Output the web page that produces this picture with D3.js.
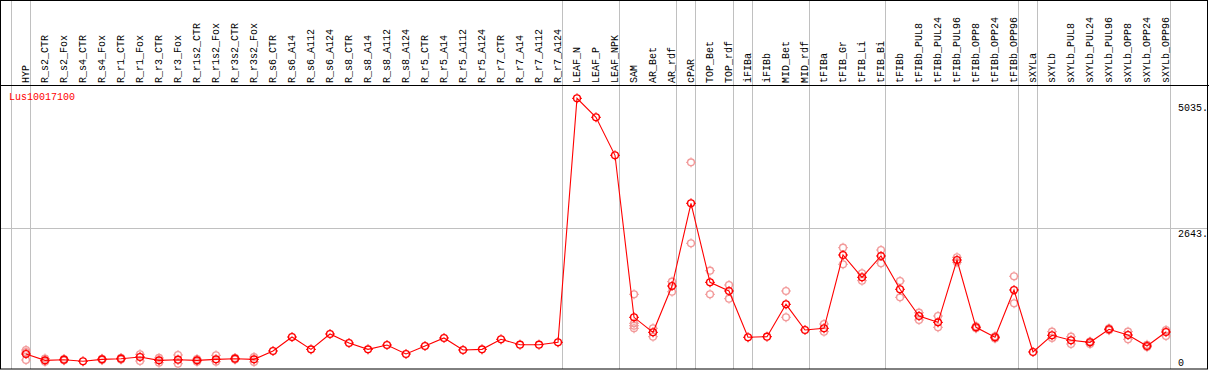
<!DOCTYPE html>
<html>
<head>
<meta charset="utf-8">
<script src="https://cdn.jsdelivr.net/npm/d3@7"></script>
<style>
  body { margin: 0; background: #fff; }
  text { font-family: "Liberation Mono", "DejaVu Sans Mono", monospace; font-size: 10px; }
</style>
</head>
<body>
<div id="main"></div>
<script>
const geneName = 'Lus10017100';

const categories = [
  'HYP', 'R_s2_CTR', 'R_s2_Fox', 'R_s4_CTR', 'R_s4_Fox', 'R_r1_CTR', 'R_r1_Fox',
  'R_r3_CTR', 'R_r3_Fox', 'R_r1s2_CTR', 'R_r1s2_Fox', 'R_r3s2_CTR', 'R_r3s2_Fox',
  'R_s6_CTR', 'R_s6_A14', 'R_s6_A112', 'R_s6_A124', 'R_s8_CTR', 'R_s8_A14',
  'R_s8_A112', 'R_s8_A124', 'R_r5_CTR', 'R_r5_A14', 'R_r5_A112', 'R_r5_A124',
  'R_r7_CTR', 'R_r7_A14', 'R_r7_A112', 'R_r7_A124', 'LEAF_N', 'LEAF_P', 'LEAF_NPK',
  'SAM', 'AR_Bet', 'AR_rdf', 'cPAR', 'TOP_Bet', 'TOP_rdf', 'iFIBa', 'iFIBb',
  'MID_Bet', 'MID_rdf', 'tFIBa', 'tFIB_Gr', 'tFIB_Li', 'tFIB_Bi', 'tFIBb',
  'tFIBb_PUL8', 'tFIBb_PUL24', 'tFIBb_PUL96', 'tFIBb_OPP8', 'tFIBb_OPP24', 'tFIBb_OPP96',
  'sXYLa', 'sXYLb', 'sXYLb_PUL8', 'sXYLb_PUL24', 'sXYLb_PUL96', 'sXYLb_OPP8',
  'sXYLb_OPP24', 'sXYLb_OPP96'
];

// mean expression per sample
const means = [
  265, 145, 157, 127, 164, 176, 208,
  145, 157, 145, 164, 176, 164,
  322, 586, 353, 643, 473, 353,
  435, 265, 416, 568, 341, 353,
  543, 441, 441, 486, 5102, 4743, 4024,
  959, 675, 1551, 3116, 1621, 1457, 581, 592,
  1205, 719, 751, 2138, 1716, 2119, 1489,
  984, 864, 2043, 770, 581, 1476,
  303, 619, 524, 486, 732, 624,
  416, 681
];

// individual replicates (same order as categories)
const replicates = [
  [340, 151, 300], [180, 120], [170, 145], [], [175, 150], [190, 160], [259, 132],
  [190, 100], [246, 81], [170, 120], [240, 120], [190, 160], [208, 115],
  [], [], [], [], [], [],
  [], [], [], [], [], [],
  [], [], [], [], [], [], [],
  [1394, 845, 800, 751], [751, 592], [1633, 1443], [3891, 2359], [1841, 1394], [1570, 1311], [], [],
  [1457, 959], [], [832, 687], [2276, 1962], [1792, 1652], [2232, 1981], [1646, 1337],
  [1046, 908], [984, 770], [2094, 2000], [790, 750], [600, 560], [1735, 1224],
  [], [687, 568], [592, 454], [500, 454], [750, 715], [687, 543],
  [440, 395], [719, 605]
];

// first sample of each tissue group (gray separators)
const groupStarts = ['HYP', 'R_s2_CTR', 'LEAF_N', 'SAM', 'cPAR', 'TOP_Bet', 'iFIBa',
  'iFIBb', 'tFIBa', 'tFIBb', 'sXYLa', 'sXYLb'];

const gridValues = [2643];
const axisLabels = [5035, 2643, 0];

const
  svgWidth = 1209,
  svgHeight = 370,
  headerY = 85.5,
  bottomY = 368,
  rightEdge = 1207.5;

const svg = d3.select('div#main')
  .append('svg')
  .attr('width', svgWidth)
  .attr('height', svgHeight);

svg.append('rect')
  .attr('width', svgWidth).attr('height', svgHeight)
  .attr('fill', '#fff');

const x = d3.scalePoint()
  .domain(categories)
  .range([26, 1166]);

const y = d3.scaleLinear()
  .domain([0, 5354])
  .range([bottomY, headerY - 0.5]);

// horizontal grid
svg.selectAll('line.hgrid')
  .data(gridValues)
  .enter()
  .append('line')
    .attr('class', 'hgrid')
    .attr('x1', 0).attr('x2', rightEdge)
    .attr('y1', d => Math.round(y(d)) + 0.5)
    .attr('y2', d => Math.round(y(d)) + 0.5)
    .attr('stroke', '#c0c0c0');

// vertical group separators
const sepX = groupStarts.map(g => x(g) - 14.5)
  .concat([x(categories[categories.length - 1]) + 4.5]);
svg.selectAll('line.vsep')
  .data(sepX)
  .enter()
  .append('line')
    .attr('class', 'vsep')
    .attr('x1', d => d).attr('x2', d => d)
    .attr('y1', 0).attr('y2', bottomY + 1)
    .attr('stroke', '#c0c0c0');

// frame
svg.append('rect')
  .attr('x', 0.5).attr('y', 0.5)
  .attr('width', rightEdge - 0.5).attr('height', bottomY + 0.5)
  .attr('fill', 'none').attr('stroke', '#000');
svg.append('line')
  .attr('x1', 0).attr('x2', svgWidth)
  .attr('y1', headerY).attr('y2', headerY)
  .attr('stroke', '#000');

// sample labels, rotated
svg.selectAll('text.sample')
  .data(categories)
  .enter()
  .append('text')
    .attr('class', 'sample')
    .attr('transform', d => `translate(${x(d) + 3},83) rotate(-90)`)
    .attr('fill', '#000')
    .text(d => d);

// value labels on the right
svg.selectAll('text.vlabel')
  .data(axisLabels)
  .enter()
  .append('text')
    .attr('class', 'vlabel')
    .attr('x', 1178)
    .attr('y', d => d === 0 ? 366 : y(d) + 9)
    .attr('fill', '#000')
    .text(d => d === 0 ? '0' : d + '.');

// gene name
svg.append('text')
  .attr('x', 9)
  .attr('y', 100)
  .attr('fill', '#ff0000')
  .text(geneName);

function marker(sel, color) {
  sel.append('circle')
    .attr('r', 3.4)
    .attr('fill', 'none')
    .attr('stroke', color)
    .attr('stroke-width', 1.4);
  sel.append('path')
    .attr('d', 'M0,-5V-3.5M0,3.5V5M-5,0H-3.5M3.5,0H5')
    .attr('stroke', color)
    .attr('stroke-width', 1);
}

// replicate points
const repData = [];
replicates.forEach((r, i) => r.forEach(v => repData.push({ c: categories[i], v: v })));
svg.selectAll('g.rep')
  .data(repData)
  .enter()
  .append('g')
    .attr('class', 'rep')
    .attr('transform', d => `translate(${x(d.c)},${y(d.v)})`)
    .call(marker, '#f29a9a');

// mean line
const line = d3.line()
  .x((d, i) => x(categories[i]))
  .y(d => y(d));
svg.append('path')
  .datum(means)
  .attr('d', line)
  .attr('fill', 'none')
  .attr('stroke', '#ff0000')
  .attr('stroke-width', 1.1);

// mean points
svg.selectAll('g.mean')
  .data(means)
  .enter()
  .append('g')
    .attr('class', 'mean')
    .attr('transform', (d, i) => `translate(${x(categories[i])},${y(d)})`)
    .call(marker, '#ff0000');
</script>
</body>
</html>
